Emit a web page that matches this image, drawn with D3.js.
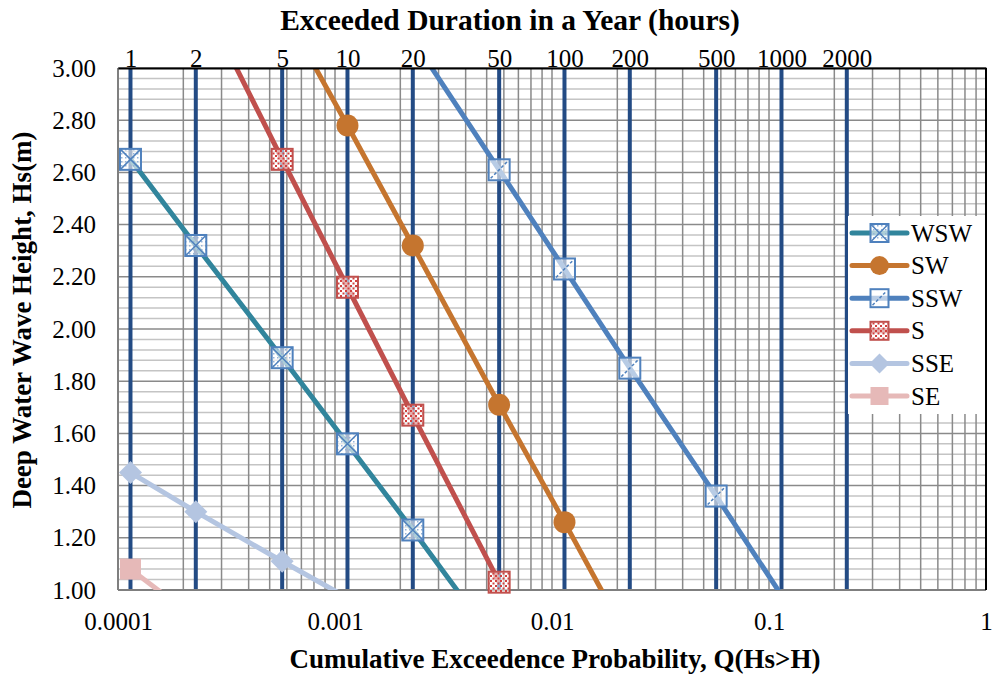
<!DOCTYPE html>
<html>
<head>
<meta charset="utf-8">
<script src="https://cdn.jsdelivr.net/npm/d3@7"></script>
<style>
  html, body { margin: 0; padding: 0; background: #fff; }
  svg text { font-family: "Liberation Serif", "Times New Roman", Times, "DejaVu Serif", serif !important; }
</style>
</head>
<body>
<svg id="chart" width="992" height="679"></svg>
<script>
// Exceedance curves of deep water wave height per direction sector.
const HOURS_PER_YEAR = 8760;
const SERIF = '"Liberation Serif", "Times New Roman", Times, "DejaVu Serif", serif';

// Secondary (top) axis: exceeded duration in a year
const hourTicks = [1, 2, 5, 10, 20, 50, 100, 200, 500, 1000, 2000];
// Primary (bottom) axis: cumulative exceedance probability
const probTicks = [0.0001, 0.001, 0.01, 0.1, 1];
const probTickLabels = ["0.0001", "0.001", "0.01", "0.1", "1"];
// Wave height ticks
const hsTicks = [1.0, 1.2, 1.4, 1.6, 1.8, 2.0, 2.2, 2.4, 2.6, 2.8, 3.0];

// Series: duration (hours/year) and Hs (m)
const seriesNames = ["WSW", "SW", "SSW", "S", "SSE", "SE"];
const wswHours = [1, 2, 5, 10, 20, 50];
const wswHs    = [2.65, 2.32, 1.89, 1.56, 1.23, 0.78];
const swHours  = [5, 10, 20, 50, 100, 200];
const swHs     = [3.23, 2.78, 2.32, 1.71, 1.26, 0.80];
const sswHours = [20, 50, 100, 200, 500, 1000];
const sswHs    = [3.11, 2.61, 2.23, 1.85, 1.36, 0.98];
const sHours   = [2, 5, 10, 20, 50];
const sHs      = [3.31, 2.65, 2.16, 1.67, 1.03];
const sseHours = [1, 2, 5, 10];
const sseHs    = [1.45, 1.30, 1.11, 0.97];
const seHours  = [1, 2];
const seHs     = [1.08, 0.89];

const seriesColors = ["#31859C", "#C5752F", "#4F81BD", "#C0504D", "#B4C5E1", "#E6B9B8"];
const seriesMarkers = ["squareX", "circle", "squareSlash", "squareDots", "diamond", "square"];

const seriesHours = [wswHours, swHours, sswHours, sHours, sseHours, seHours];
const seriesHs = [wswHs, swHs, sswHs, sHs, sseHs, seHs];

const series = seriesNames.map((name, i) => ({
  name,
  color: seriesColors[i],
  marker: seriesMarkers[i],
  points: seriesHours[i].map((h, j) => ({ p: h / HOURS_PER_YEAR, hs: seriesHs[i][j] }))
}));

const W = 992, H = 679;
const margin = { top: 68, right: 6, bottom: 89, left: 118 };
const plotW = W - margin.left - margin.right;
const plotH = H - margin.top - margin.bottom;

const svg = d3.select("#chart");
svg.append("rect").attr("width", W).attr("height", H).attr("fill", "#fff");

const x = d3.scaleLog().domain([1e-4, 1]).range([margin.left, margin.left + plotW]);
const y = d3.scaleLinear().domain([1, 3]).range([margin.top + plotH, margin.top]);

const defs = svg.append("defs");
defs.append("clipPath").attr("id", "plotClip")
  .append("rect")
  .attr("x", margin.left).attr("y", margin.top)
  .attr("width", plotW).attr("height", plotH);

// Confetti-like fill for the S markers
const pat = defs.append("pattern").attr("id", "redConfetti")
  .attr("patternUnits", "userSpaceOnUse").attr("width", 5).attr("height", 5);
pat.append("rect").attr("width", 5).attr("height", 5).attr("fill", "#fff").attr("fill-opacity", 0.55);
pat.append("rect").attr("x", 0).attr("y", 0).attr("width", 2).attr("height", 2).attr("fill", "#D2413E");
pat.append("rect").attr("x", 2.5).attr("y", 2.5).attr("width", 2).attr("height", 2).attr("fill", "#D2413E");
// Dotted light blue fill for the WSW markers
const pat2 = defs.append("pattern").attr("id", "blueDots")
  .attr("patternUnits", "userSpaceOnUse").attr("width", 4).attr("height", 4);
pat2.append("rect").attr("width", 4).attr("height", 4).attr("fill", "#fff").attr("fill-opacity", 0.6);
pat2.append("rect").attr("x", 1).attr("y", 1).attr("width", 1.5).attr("height", 1.5).attr("fill", "#95B3D7");

// ---- Grid ----
const grid = svg.append("g");
const minorHs = d3.range(0, 51).map(i => 1 + i * 0.04);
grid.selectAll("line.hminor")
  .data(minorHs.filter((v, i) => i % 5 !== 0))
  .join("line")
  .attr("x1", margin.left).attr("x2", margin.left + plotW)
  .attr("y1", d => y(d)).attr("y2", d => y(d))
  .attr("stroke", "#C4C4C4").attr("stroke-width", 1.5);
grid.selectAll("line.hmajor")
  .data(hsTicks)
  .join("line")
  .attr("x1", margin.left).attr("x2", margin.left + plotW)
  .attr("y1", d => y(d)).attr("y2", d => y(d))
  .attr("stroke", "#8A8A8A").attr("stroke-width", 1.5);

const logGrid = [];
[1e-4, 1e-3, 1e-2, 1e-1].forEach(dec => {
  for (let k = 1; k <= 9; k++) logGrid.push(k * dec);
});
grid.selectAll("line.v")
  .data(logGrid)
  .join("line")
  .attr("x1", d => x(d)).attr("x2", d => x(d))
  .attr("y1", margin.top).attr("y2", margin.top + plotH)
  .attr("stroke", "#8A8A8A").attr("stroke-width", 1.5);

// Duration reference lines
svg.append("g").selectAll("line")
  .data(hourTicks)
  .join("line")
  .attr("x1", d => x(d / HOURS_PER_YEAR)).attr("x2", d => x(d / HOURS_PER_YEAR))
  .attr("y1", margin.top).attr("y2", margin.top + plotH)
  .attr("stroke", "#234B84").attr("stroke-width", 4);

// Plot borders
svg.append("line").attr("x1", margin.left).attr("x2", margin.left)
  .attr("y1", margin.top).attr("y2", margin.top + plotH)
  .attr("stroke", "#7F7F7F").attr("stroke-width", 2);
svg.append("line").attr("x1", margin.left).attr("x2", margin.left + plotW)
  .attr("y1", margin.top + plotH).attr("y2", margin.top + plotH)
  .attr("stroke", "#7F7F7F").attr("stroke-width", 2);
svg.append("line").attr("x1", margin.left + plotW).attr("x2", margin.left + plotW)
  .attr("y1", margin.top).attr("y2", margin.top + plotH)
  .attr("stroke", "#000").attr("stroke-width", 2);

// ---- Series lines ----
const line = d3.line().x(d => x(d.p)).y(d => y(d.hs));
const linesG = svg.append("g").attr("clip-path", "url(#plotClip)");
series.forEach(s => {
  linesG.append("path")
    .datum(s.points)
    .attr("d", line)
    .attr("fill", "none")
    .attr("stroke", s.color)
    .attr("stroke-width", 5)
    .attr("stroke-linejoin", "round");
});

// ---- Markers ----
function drawMarker(g, type, color, cx, cy, size) {
  const h = size / 2;
  if (type === "circle") {
    g.append("circle").attr("cx", cx).attr("cy", cy).attr("r", h + 0.5).attr("fill", color);
  } else if (type === "diamond") {
    g.append("path")
      .attr("d", `M${cx},${cy - h - 1}L${cx + h + 1},${cy}L${cx},${cy + h + 1}L${cx - h - 1},${cy}Z`)
      .attr("fill", color);
  } else if (type === "square") {
    g.append("rect").attr("x", cx - h).attr("y", cy - h).attr("width", size).attr("height", size)
      .attr("fill", color);
  } else if (type === "squareX") {
    g.append("rect").attr("x", cx - h).attr("y", cy - h).attr("width", size).attr("height", size)
      .attr("fill", "url(#blueDots)").attr("stroke", "#4F81BD").attr("stroke-width", 2);
    g.append("path")
      .attr("d", `M${cx - h},${cy - h}L${cx + h},${cy + h}M${cx + h},${cy - h}L${cx - h},${cy + h}`)
      .attr("stroke", "#4F81BD").attr("stroke-width", 1.5);
  } else if (type === "squareSlash") {
    g.append("rect").attr("x", cx - h).attr("y", cy - h).attr("width", size).attr("height", size)
      .attr("fill", "#fff").attr("fill-opacity", 0.6)
      .attr("stroke", "#4F81BD").attr("stroke-width", 2);
    g.append("path")
      .attr("d", `M${cx - h + 2},${cy + h - 2}L${cx + h - 2},${cy - h + 2}`)
      .attr("stroke", "#4F81BD").attr("stroke-width", 1.5).attr("stroke-dasharray", "3,2");
  } else if (type === "squareDots") {
    g.append("rect").attr("x", cx - h).attr("y", cy - h).attr("width", size).attr("height", size)
      .attr("fill", "url(#redConfetti)").attr("stroke", "#C0504D").attr("stroke-width", 2);
  }
}

const markersG = svg.append("g");
series.forEach(s => {
  s.points
    .filter(d => d.hs >= 1 && d.hs <= 3 && d.p >= 1e-4 && d.p <= 1)
    .forEach(d => drawMarker(markersG, s.marker, s.color, x(d.p), y(d.hs), 21));
});

// ---- Axes ----
const fontSize = 25;
function styleTicks(g) {
  g.attr("font-family", SERIF);
  g.selectAll("text")
    .attr("font-size", fontSize)
    .style("font-family", SERIF)
    .attr("fill", "#000");
}
const xAxis = d3.axisBottom(x).tickValues(probTicks)
  .tickFormat((d, i) => probTickLabels[i]).tickSize(0).tickPadding(22);
const gx = svg.append("g").attr("transform", `translate(0,${margin.top + plotH})`).call(xAxis);
gx.select(".domain").remove();
styleTicks(gx);

const yAxis = d3.axisLeft(y).tickValues(hsTicks).tickFormat(d3.format(".2f")).tickSize(0).tickPadding(22);
const gy = svg.append("g").attr("transform", `translate(${margin.left},0)`).call(yAxis);
gy.select(".domain").remove();
styleTicks(gy);

const topAxis = d3.axisTop(x).tickValues(hourTicks.map(h => h / HOURS_PER_YEAR))
  .tickFormat((d, i) => String(hourTicks[i])).tickSize(0).tickPadding(1);
const gt = svg.append("g").attr("transform", `translate(0,${margin.top})`).call(topAxis);
gt.select(".domain").attr("stroke", "#000").attr("stroke-width", 2);
styleTicks(gt);

// ---- Titles ----
function title(sel) {
  return sel.attr("text-anchor", "middle").attr("font-weight", "bold").style("font-family", SERIF);
}
title(svg.append("text"))
  .attr("x", 510).attr("y", 30).attr("font-size", 29.5)
  .text("Exceeded Duration in a Year (hours)");
title(svg.append("text"))
  .attr("x", 555).attr("y", 668).attr("font-size", 27)
  .text("Cumulative Exceedence Probability, Q(Hs>H)");
title(svg.append("text"))
  .attr("transform", "translate(31,320) rotate(-90)").attr("font-size", 27)
  .text("Deep Water Wave Height, Hs(m)");

// ---- Legend ----
const legend = svg.append("g");
legend.append("rect")
  .attr("x", 848).attr("y", 216).attr("width", 137).attr("height", 198)
  .attr("fill", "#fff");
series.forEach((s, i) => {
  const ly = 233 + i * 32.6;
  legend.append("line")
    .attr("x1", 852).attr("x2", 907).attr("y1", ly).attr("y2", ly)
    .attr("stroke", s.color).attr("stroke-width", 5).attr("stroke-linecap", "round");
  drawMarker(legend, s.marker, s.color, 879.5, ly, 18);
  legend.append("text")
    .attr("x", 911).attr("y", ly).attr("dy", "0.34em")
    .attr("font-size", fontSize)
    .style("font-family", SERIF)
    .text(s.name);
});
</script>
</body>
</html>
